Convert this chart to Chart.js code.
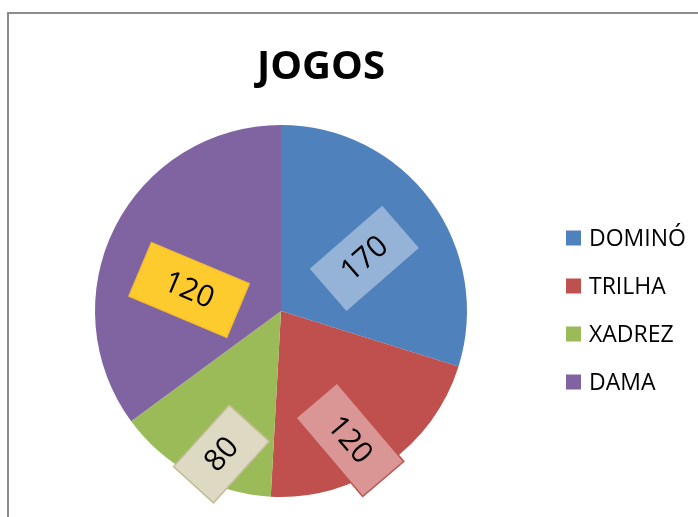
<!DOCTYPE html>
<html>
<head>
<meta charset="utf-8">
<script src="https://cdn.jsdelivr.net/npm/chart.js@4.4.1/dist/chart.umd.min.js"></script>
<style>
  html, body { margin: 0; padding: 0; background: #fff; overflow: hidden; }
  #frame { position: absolute; left: 7px; top: 12px; width: 760px; height: 560px; border: 2px solid #8c8c8c; }
  #wrap { position: absolute; left: 0; top: 0; width: 698px; height: 517px; }
</style>
</head>
<body>
<div id="frame"></div>
<div id="wrap"><canvas id="pie" width="698" height="517"></canvas></div>
<script>
const chartTitle = "JOGOS";
const games = ["DOMINÓ", "TRILHA", "XADREZ", "DAMA"];
const counts = [170, 120, 80, 200];
// text shown in the label boxes, as printed on the chart
const labelTexts = ["170", "120", "80", "120"];
const sliceColors = ["#4f81bd", "#c0504d", "#9bbb59", "#8064a2"];

// label box styling: radial fraction, angle offset (deg), rotation (deg), size, colours
const labelBoxes = [
  { r: 0.53, off: 4, rot: -41, w: 96, h: 56, fill: "#95b3d7", stroke: null },
  { r: 0.785, off: 6.6, rot: 49.6, w: 103, h: 54, fill: "#d99694", stroke: "#c0504d" },
  { r: 0.833, off: -5.8, rot: -47.8, w: 83, h: 54, fill: "#ddd9c3", stroke: "#c4bd97" },
  { r: 0.507, off: -13.9, rot: 22.8, w: 106, h: 58, fill: "#fecb2f", stroke: "#f5c02a" }
];

const boxLabels = {
  id: "boxLabels",
  afterDatasetsDraw(chart) {
    const ctx = chart.ctx;
    const arcs = chart.getDatasetMeta(0).data;
    arcs.forEach((arc, i) => {
      const p = arc.getProps(["x", "y", "startAngle", "endAngle", "outerRadius"], true);
      const s = labelBoxes[i];
      const a = (p.startAngle + p.endAngle) / 2 + s.off * Math.PI / 180;
      const x = p.x + Math.cos(a) * p.outerRadius * s.r;
      const y = p.y + Math.sin(a) * p.outerRadius * s.r;
      ctx.save();
      ctx.translate(x, y);
      ctx.rotate(s.rot * Math.PI / 180);
      ctx.fillStyle = s.fill;
      ctx.fillRect(-s.w / 2, -s.h / 2, s.w, s.h);
      if (s.stroke) {
        ctx.strokeStyle = s.stroke;
        ctx.lineWidth = 1.5;
        ctx.strokeRect(-s.w / 2, -s.h / 2, s.w, s.h);
      }
      ctx.fillStyle = "#000";
      ctx.font = "30px 'Open Sans'";
      ctx.textAlign = "center";
      ctx.textBaseline = "middle";
      ctx.fillText(labelTexts[i], 0, 1);
      ctx.restore();
    });
  }
};

const sideLegend = {
  id: "sideLegend",
  afterDraw(chart) {
    const ctx = chart.ctx;
    ctx.save();
    ctx.font = "23px 'Open Sans'";
    ctx.textBaseline = "middle";
    ctx.textAlign = "left";
    games.forEach((g, i) => {
      const cy = 238 + i * 48;
      ctx.fillStyle = sliceColors[i];
      ctx.fillRect(566, cy - 7.5, 15, 15);
      ctx.fillStyle = "#000";
      ctx.fillText(g, 589, cy + 1);
    });
    ctx.restore();
  }
};

// move the title a little right of the pie centre
const titleShift = {
  id: "titleShift",
  afterLayout(chart) {
    if (chart.titleBlock) chart.titleBlock.right += 80;
  }
};

new Chart(document.getElementById("pie"), {
  type: "pie",
  data: {
    labels: games,
    datasets: [{
      data: counts,
      backgroundColor: sliceColors,
      borderWidth: 0
    }]
  },
  options: {
    responsive: false,
    animation: false,
    layout: { padding: { left: 95, right: 231, top: 0, bottom: 20 } },
    plugins: {
      legend: { display: false },
      tooltip: { enabled: false },
      title: {
        display: true,
        text: chartTitle,
        color: "#000",
        font: { family: "'Open Sans'", size: 40, weight: "bold", lineHeight: 1.2 },
        padding: { top: 44, bottom: 33 }
      }
    }
  },
  plugins: [boxLabels, sideLegend, titleShift]
});
</script>
</body>
</html>
